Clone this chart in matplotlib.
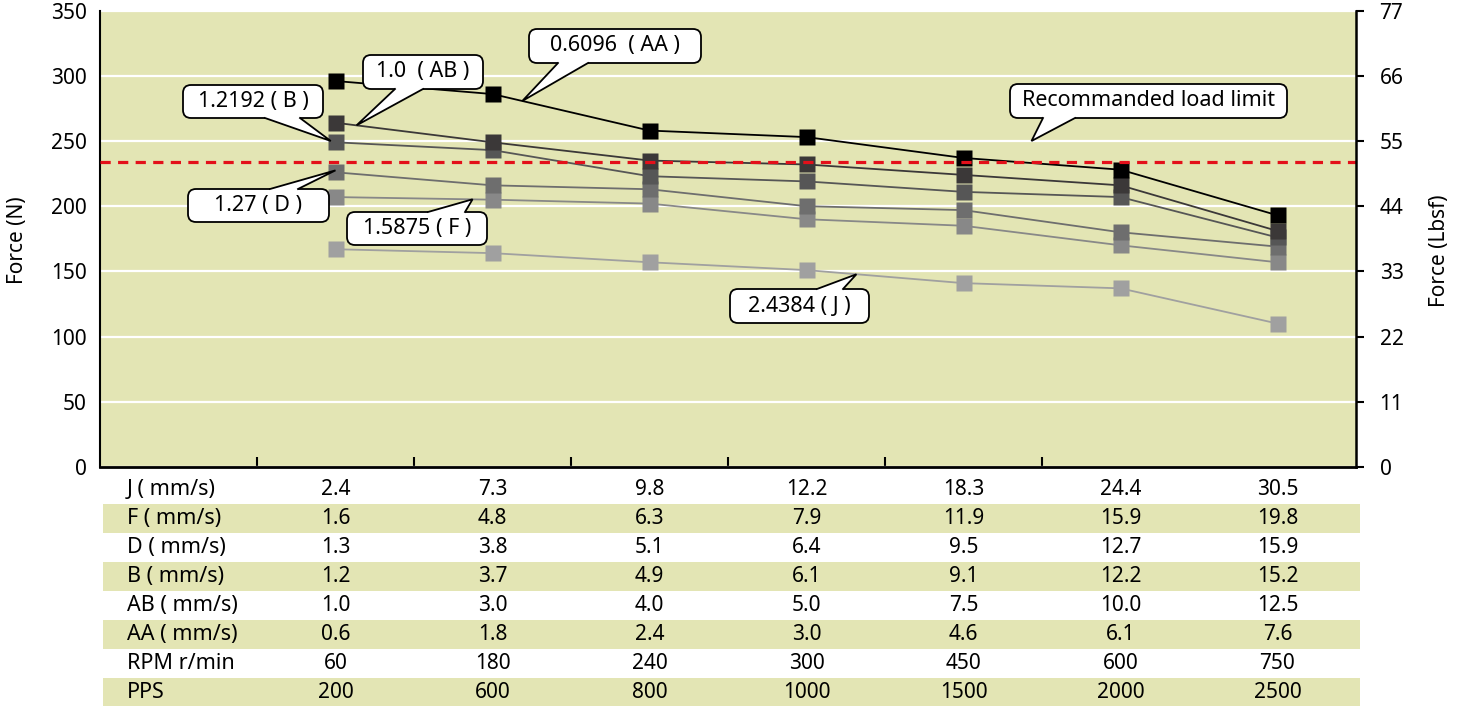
import matplotlib
matplotlib.use("Agg")
import matplotlib.pyplot as plt
from matplotlib.patches import Rectangle, FancyBboxPatch, Polygon
from matplotlib.lines import Line2D
from matplotlib.transforms import IdentityTransform
import matplotlib.transforms as mtransforms

plt.rcParams['font.family'] = ['Noto Sans', 'DejaVu Sans']

# ---------------- data ----------------
categories = ["2.4", "7.3", "9.8", "12.2", "18.3", "24.4", "30.5"]
force_J = [167, 164, 157, 151, 141, 137, 110]
force_F = [207, 205, 202, 190, 185, 170, 157]
force_D = [226, 216, 213, 200, 197, 180, 169]
force_B = [249, 243, 223, 219, 211, 207, 176]
force_AB = [264, 249, 235, 232, 224, 216, 181]
force_AA = [296, 286, 258, 253, 237, 228, 193]
load_limit = 234

left_ticks = [0, 50, 100, 150, 200, 250, 300, 350]
right_ticks = [0, 11, 22, 33, 44, 55, 66, 77]

row_labels = ["J ( mm/s)", "F ( mm/s)", "D ( mm/s)", "B ( mm/s)",
              "AB ( mm/s)", "AA ( mm/s)", "RPM r/min", "PPS"]
row_J = ["2.4", "7.3", "9.8", "12.2", "18.3", "24.4", "30.5"]
row_F = ["1.6", "4.8", "6.3", "7.9", "11.9", "15.9", "19.8"]
row_D = ["1.3", "3.8", "5.1", "6.4", "9.5", "12.7", "15.9"]
row_B = ["1.2", "3.7", "4.9", "6.1", "9.1", "12.2", "15.2"]
row_AB = ["1.0", "3.0", "4.0", "5.0", "7.5", "10.0", "12.5"]
row_AA = ["0.6", "1.8", "2.4", "3.0", "4.6", "6.1", "7.6"]
row_RPM = ["60", "180", "240", "300", "450", "600", "750"]
row_PPS = ["200", "600", "800", "1000", "1500", "2000", "2500"]

callout_texts = ["1.2192 ( B )", "1.0  ( AB )", "0.6096  ( AA )", "Recommanded load limit",
                 "1.27 ( D )", "1.5875 ( F )", "2.4384 ( J )"]

# ---------------- figure ----------------
W, H = 1465, 706
BG = '#e3e5b4'
fig = plt.figure(figsize=(W / 100, H / 100), dpi=100)
ax = fig.add_axes([100 / W, 1 - 467 / H, 1256 / W, (467 - 10.6) / H])
ax.set_facecolor(BG)
x = list(range(len(categories)))
ax.set_xlim(-1.5, 6.5)
ax.set_ylim(0, 350)
ax.set_yticks(left_ticks)
ax.tick_params(axis='y', length=0, pad=9.5, labelsize=15)
ax.set_xticks([i - 0.5 for i in x[:-1]])
ax.set_xticklabels([])
ax.tick_params(axis='x', direction='in', length=7.5, width=1.5, color='black')
ax.yaxis.grid(True, color='white', lw=1.6)
ax.set_axisbelow(True)
for s in ['top', 'right']:
    ax.spines[s].set_visible(False)
ax.spines['left'].set_linewidth(1.5)
ax.spines['bottom'].set_linewidth(2.0)

series = [
    (force_J, '#a0a0a0'),
    (force_F, '#888888'),
    (force_D, '#6e6e6e'),
    (force_B, '#565656'),
    (force_AB, '#3b3838'),
    (force_AA, '#000000'),
]
for vals, col in series:
    ax.plot(x, vals, color=col, lw=1.3, marker='s', ms=11.3,
            mfc=col, mec='none', zorder=3)

ax.axhline(load_limit, color='#e3101a', lw=2.3, dashes=(3.2, 2.3), zorder=5)

ax2 = ax.twinx()
ax2.set_ylim(0, 77)
ax2.set_yticks(right_ticks)
ax2.tick_params(axis='y', direction='out', length=6, width=1.5, pad=11, labelsize=15)
for s in ['top', 'left', 'bottom']:
    ax2.spines[s].set_visible(False)
ax2.spines['right'].set_linewidth(1.8)

fig.text(18 / W, 1 - 240 / H, "Force (N)", rotation=90, ha='center', va='center', fontsize=15)
fig.text(1440 / W, 1 - 251 / H, "Force (Lbsf)", rotation=90, ha='center', va='center', fontsize=15)

# ---------------- callouts ----------------
# box (x0, x1, y0, y1) in image pixels, tip in data coords, edge of base, base x-range in pixels
callout_layout = [
    ((183, 323, 85, 118), (-0.03, 250), 'bottom', (265, 300)),
    ((363, 483, 55, 89), (0.134, 262), 'bottom', (395, 423)),
    ((529, 701, 29, 63), (1.19, 280.7), 'bottom', (558, 588)),
    ((1010, 1287, 84, 118), (4.433, 250), 'bottom', (1043, 1075)),
    ((188, 329, 189, 222), (0.0, 227.5), 'top', (270, 298)),
    ((347, 487, 212, 245), (0.873, 205.3), 'top', (428, 465)),
    ((730, 869, 289, 323), (3.318, 147.8), 'top', (817, 843)),
]
ident = IdentityTransform()
for txt, (box, tip, edge, base) in zip(callout_texts, callout_layout):
    bx0, bx1, by0, by1 = box
    # display coords (origin bottom-left)
    dx0, dx1 = bx0, bx1
    dy0, dy1 = H - by1, H - by0
    patch = FancyBboxPatch((dx0, dy0), dx1 - dx0, dy1 - dy0,
                           boxstyle='round,pad=0,rounding_size=8',
                           fc='white', ec='black', lw=1.3, transform=ident, zorder=10)
    fig.add_artist(patch)
    tx, ty = ax.transData.transform(tip)
    if edge == 'bottom':
        ey, ein = dy0, dy0 + 2.5
    else:
        ey, ein = dy1, dy1 - 2.5
    poly = Polygon([(base[0], ein), (base[0], ey), (tx, ty), (base[1], ey), (base[1], ein)],
                   closed=True, fc='white', ec='none', transform=ident, zorder=11)
    fig.add_artist(poly)
    ln = Line2D([base[0], tx, base[1]], [ey, ty, ey], color='black', lw=1.3,
                solid_joinstyle='miter', transform=ident, zorder=12)
    fig.add_artist(ln)
    fig.text((dx0 + dx1) / 2 / W, (dy0 + dy1) / 2 / H, txt, ha='center', va='center',
             fontsize=15.5, zorder=13)

# ---------------- table ----------------
rows = [row_J, row_F, row_D, row_B, row_AB, row_AA, row_RPM, row_PPS]
row_top = 475
row_h = 29
trans = mtransforms.blended_transform_factory(ax.transData, fig.transFigure)
for i, (lab, vals) in enumerate(zip(row_labels, rows)):
    top = row_top + i * row_h
    if i % 2 == 1:
        fig.patches.append(Rectangle((103 / W, 1 - (top + row_h) / H), (1360 - 103) / W, row_h / H,
                                     transform=fig.transFigure, facecolor=BG, edgecolor='none', zorder=0))
    yc = 1 - (top + row_h / 2) / H
    fig.text(127 / W, yc, lab, ha='left', va='center', fontsize=15.5)
    for xi, v in zip(x, vals):
        fig.text(xi, yc, v, ha='center', va='center', fontsize=15, transform=trans)

fig.savefig("out.png", dpi=100)
